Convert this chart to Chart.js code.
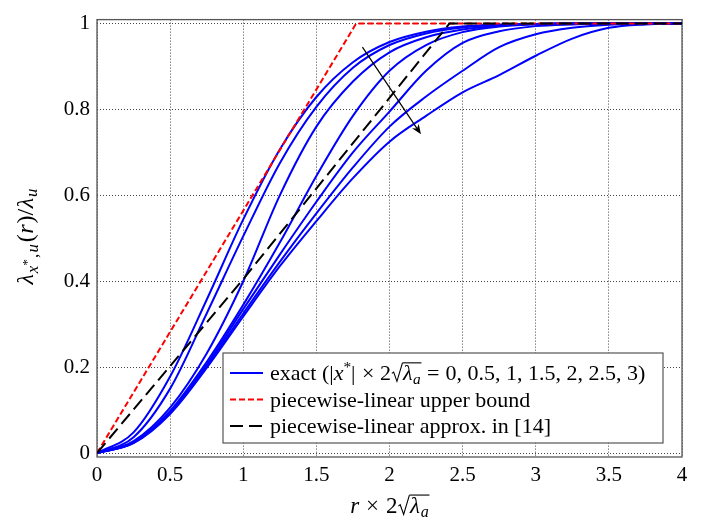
<!DOCTYPE html>
<html>
<head>
<meta charset="utf-8">
<script src="https://cdn.jsdelivr.net/npm/chart.js@4.4.1/dist/chart.umd.min.js"></script>
<style>
  html, body { margin: 0; padding: 0; background: #fff; }
  #wrap { width: 701px; height: 531px; }
</style>
</head>
<body>
<div id="wrap"><canvas id="curveChart" width="701" height="531"></canvas></div>
<script>
// sample radii (r x 2 sqrt(lambda_a)) the curves were read at
const rGrid = [0, 0.25, 0.5, 0.75, 1, 1.25, 1.5, 1.75, 2, 2.25, 2.5, 2.75, 3, 3.25, 3.5, 3.75, 4];

// exact curves, one per |x*| x 2 sqrt(lambda_a)
const exact00 = [0, 0.048, 0.178, 0.357, 0.544, 0.707, 0.829, 0.910, 0.957, 0.981, 0.993, 0.997, 0.999, 1, 1, 1, 1];
const exact05 = [0, 0.037, 0.150, 0.325, 0.505, 0.675, 0.806, 0.897, 0.950, 0.977, 0.991, 0.997, 0.999, 1, 1, 1, 1];
const exact10 = [0, 0.028, 0.106, 0.232, 0.400, 0.600, 0.760, 0.865, 0.933, 0.968, 0.986, 0.995, 0.999, 1, 1, 1, 1];
const exact15 = [0, 0.025, 0.098, 0.212, 0.345, 0.490, 0.645, 0.785, 0.890, 0.950, 0.980, 0.993, 0.998, 1, 1, 1, 1];
const exact20 = [0, 0.024, 0.095, 0.206, 0.335, 0.462, 0.585, 0.700, 0.795, 0.890, 0.955, 0.982, 0.994, 0.998, 1, 1, 1];
const exact25 = [0, 0.024, 0.093, 0.202, 0.325, 0.445, 0.558, 0.665, 0.760, 0.830, 0.890, 0.945, 0.975, 0.990, 0.997, 1, 1];
const exact30 = [0, 0.023, 0.091, 0.198, 0.318, 0.435, 0.540, 0.640, 0.725, 0.785, 0.840, 0.880, 0.925, 0.965, 0.990, 0.998, 1];
const exactCurves = [exact00, exact05, exact10, exact15, exact20, exact25, exact30];

// piecewise-linear upper bound
const upperR = [0, 1.772, 4];
const upperY = [0, 1, 1];

// piecewise-linear approx. in [14]
const approxR = [0, 1, 2.41, 4];
const approxY = [0, 0.405, 1, 1];

// arrow (direction of growing |x*|)
const arrowFrom = [1.815, 0.945];
const arrowTo = [2.215, 0.742];

const xTicks = [0, 0.5, 1, 1.5, 2, 2.5, 3, 3.5, 4];
const yTicks = [0, 0.2, 0.4, 0.6, 0.8, 1];

const SERIF = '"Liberation Serif"';

function toPoints(xs, ys) {
    return xs.map((x, i) => ({ x: x, y: ys[i] }));
}

// --- tiny rich text helper (italics, sub/superscripts, radicals) ---
function partFont(p, size) {
    return (p.i ? 'italic ' : '') + (size * (p.s || 1)).toFixed(1) + 'px ' + SERIF;
}
function partWidth(ctx, p, size) {
    if (p.rad) return size * 0.55;
    ctx.font = partFont(p, size);
    return ctx.measureText(p.t).width + (p.gap || 0) * size;
}
function richWidth(ctx, parts, size) {
    return parts.reduce((w, p) => w + partWidth(ctx, p, size), 0);
}
function drawRich(ctx, parts, x, y, size) {
    let cx = x;
    let barStart = null;
    ctx.textBaseline = 'alphabetic';
    ctx.textAlign = 'left';
    parts.forEach(p => {
        const w = partWidth(ctx, p, size);
        if (p.rad) {
            const top = y - size * 0.78;
            ctx.save();
            ctx.lineWidth = 1.1;
            ctx.strokeStyle = '#000';
            ctx.beginPath();
            ctx.moveTo(cx + size * 0.04, y - size * 0.30);
            ctx.lineTo(cx + size * 0.12, y - size * 0.36);
            ctx.lineTo(cx + size * 0.27, y + size * 0.06);
            ctx.lineTo(cx + size * 0.52, top);
            ctx.stroke();
            ctx.restore();
            barStart = cx + size * 0.52;
        } else {
            ctx.font = partFont(p, size);
            ctx.fillText(p.t, cx, y + (p.dy || 0) * size);
        }
        cx += w;
        if (p.radEnd && barStart !== null) {
            ctx.save();
            ctx.lineWidth = 1.1;
            ctx.strokeStyle = '#000';
            ctx.beginPath();
            ctx.moveTo(barStart, y - size * 0.78);
            ctx.lineTo(cx - (p.gap || 0) * size + size * 0.03, y - size * 0.78);
            ctx.stroke();
            ctx.restore();
            barStart = null;
        }
    });
}

const xTitleParts = [
    { t: 'r', i: true, gap: 0.3 }, { t: '×', gap: 0.3 }, { t: '2' }, { rad: true },
    { t: 'λ', i: true, gap: 0.03 }, { t: 'a', i: true, s: 0.7, dy: 0.18, radEnd: true }
];
const yTitleParts = [
    { t: 'λ', i: true, gap: 0.04 }, { t: 'x', i: true, s: 0.7, dy: 0.2 }, { t: '*', s: 0.55, dy: -0.08, gap: 0.04 },
    { t: ',', s: 0.7, dy: 0.2, gap: 0.06 }, { t: 'u', i: true, s: 0.7, dy: 0.2, gap: 0.08 },
    { t: '(', gap: 0.02 }, { t: 'r', i: true, gap: 0.04 }, { t: ')/', gap: 0.02 }, { t: 'λ', i: true, gap: 0.04 },
    { t: 'u', i: true, s: 0.7, dy: 0.18 }
];
const legendRows = [
    { color: '#0000ff', dash: [], parts: [
        { t: 'exact (|' }, { t: 'x', i: true }, { t: '*', s: 0.7, dy: -0.38 }, { t: '| ', gap: 0.05 },
        { t: '×', gap: 0.25 }, { t: '2' }, { rad: true }, { t: 'λ', i: true, gap: 0.02 },
        { t: 'a', i: true, s: 0.7, dy: 0.18, radEnd: true, gap: 0.28 },
        { t: '=', gap: 0.28 }, { t: '0, 0.5, 1, 1.5, 2, 2.5, 3)' }
    ] },
    { color: '#ff0000', dash: [6, 3], parts: [{ t: 'piecewise-linear upper bound' }] },
    { color: '#000000', dash: [13, 6], parts: [{ t: 'piecewise-linear approx. in [14]' }] }
];

document.addEventListener('DOMContentLoaded', function() {
    if (typeof Chart === 'undefined') {
        console.error('Chart.js is not loaded!');
        return;
    }
    const canvas = document.getElementById('curveChart');
    const ctx = canvas.getContext('2d');

    const datasets = [];
    // black first so it is painted on top
    datasets.push({
        label: 'piecewise-linear approx. in [14]',
        data: toPoints(approxR, approxY),
        borderColor: '#000000', borderWidth: 2, borderDash: [13, 6], tension: 0
    });
    datasets.push({
        label: 'piecewise-linear upper bound',
        data: toPoints(upperR, upperY),
        borderColor: '#ff0000', borderWidth: 2, borderDash: [6, 3], tension: 0
    });
    exactCurves.forEach(vals => {
        datasets.push({
            label: 'exact',
            data: toPoints(rGrid, vals),
            borderColor: '#0000ff', borderWidth: 2,
            cubicInterpolationMode: 'monotone'
        });
    });

    // outer frame, arrow, titles and legend
    const decorPlugin = {
        id: 'decor',
        beforeDatasetsDraw(chart) {
            const a = chart.chartArea;
            const c = chart.ctx;
            c.save();
            c.strokeStyle = '#555';
            c.lineWidth = 1.3;
            c.strokeRect(a.left, a.top, a.right - a.left, a.bottom - a.top);
            c.restore();
        },
        afterDatasetsDraw(chart) {
            const c = chart.ctx;
            const xs = chart.scales.x, ys = chart.scales.y;
            // arrow
            const x1 = xs.getPixelForValue(arrowFrom[0]), y1 = ys.getPixelForValue(arrowFrom[1]);
            const x2 = xs.getPixelForValue(arrowTo[0]), y2 = ys.getPixelForValue(arrowTo[1]);
            const ang = Math.atan2(y2 - y1, x2 - x1);
            c.save();
            c.strokeStyle = '#000';
            c.fillStyle = '#000';
            c.lineWidth = 1.2;
            c.beginPath();
            c.moveTo(x1, y1);
            c.lineTo(x2 - 6 * Math.cos(ang), y2 - 6 * Math.sin(ang));
            c.stroke();
            c.beginPath();
            c.moveTo(x2, y2);
            c.lineTo(x2 - 10 * Math.cos(ang) + 4 * Math.sin(ang), y2 - 10 * Math.sin(ang) - 4 * Math.cos(ang));
            c.lineTo(x2 - 7 * Math.cos(ang), y2 - 7 * Math.sin(ang));
            c.lineTo(x2 - 10 * Math.cos(ang) - 4 * Math.sin(ang), y2 - 10 * Math.sin(ang) + 4 * Math.cos(ang));
            c.closePath();
            c.fill();
            c.restore();

            // legend box
            const box = { left: 223, top: 353, right: 663, bottom: 443 };
            c.save();
            c.fillStyle = '#fff';
            c.fillRect(box.left, box.top, box.right - box.left, box.bottom - box.top);
            c.strokeStyle = '#555';
            c.lineWidth = 1.2;
            c.strokeRect(box.left, box.top, box.right - box.left, box.bottom - box.top);
            const rowY = [373, 399.5, 426];
            legendRows.forEach((row, i) => {
                c.strokeStyle = row.color;
                c.lineWidth = 2;
                c.setLineDash(row.dash);
                c.beginPath();
                c.moveTo(230, rowY[i]);
                c.lineTo(263, rowY[i]);
                c.stroke();
                c.setLineDash([]);
                c.fillStyle = '#000';
                drawRich(c, row.parts, 270, rowY[i] + 7, 22);
            });
            c.restore();
        },
        afterDraw(chart) {
            const c = chart.ctx;
            c.save();
            c.fillStyle = '#000';
            // x title
            const wx = richWidth(c, xTitleParts, 23);
            drawRich(c, xTitleParts, 389.5 - wx / 2, 513, 23);
            // y title, rotated
            const wy = richWidth(c, yTitleParts, 24);
            c.translate(33, 236.5);
            c.rotate(-Math.PI / 2);
            drawRich(c, yTitleParts, -wy / 2, 0, 24);
            c.restore();
        }
    };

    canvas.chart = new Chart(ctx, {
        type: 'line',
        data: { datasets: datasets },
        options: {
            responsive: false,
            animation: false,
            devicePixelRatio: 1,
            layout: { padding: { top: 16, right: 19, left: 0, bottom: 0 } },
            elements: { point: { radius: 0 }, line: { fill: false } },
            plugins: {
                legend: { display: false },
                tooltip: { enabled: false }
            },
            scales: {
                x: {
                    type: 'linear',
                    min: 0,
                    max: 4,
                    afterBuildTicks: scale => { scale.ticks = xTicks.map(v => ({ value: v })); },
                    afterFit: scale => { scale.height = 74; },
                    ticks: {
                        color: '#000',
                        padding: 6,
                        maxRotation: 0,
                        font: { family: 'Liberation Serif', size: 21 },
                        callback: v => String(v)
                    },
                    grid: { color: '#444', lineWidth: 1, drawTicks: false },
                    border: { display: false, dash: [1, 2] }
                },
                y: {
                    type: 'linear',
                    min: -0.0092,
                    max: 1.0092,
                    afterBuildTicks: scale => { scale.ticks = yTicks.map(v => ({ value: v })); },
                    afterFit: scale => { scale.width = 97; },
                    ticks: {
                        color: '#000',
                        padding: 7,
                        font: { family: 'Liberation Serif', size: 21 },
                        callback: v => String(v)
                    },
                    grid: { color: '#444', lineWidth: 1, drawTicks: false },
                    border: { display: false, dash: [1, 2] }
                }
            }
        },
        plugins: [decorPlugin]
    });
});
</script>
</body>
</html>
